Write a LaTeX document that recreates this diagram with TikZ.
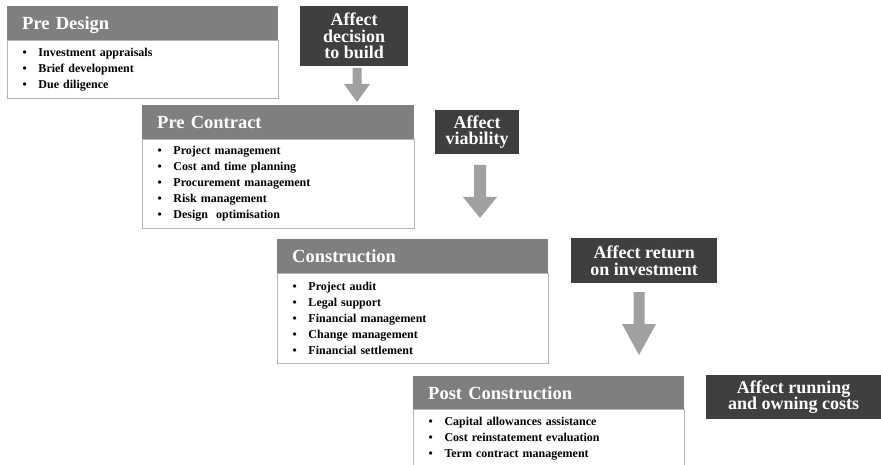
\documentclass[tikz,border=0pt]{standalone}
\usepackage{fontspec}
\setmainfont{Liberation Serif}
\definecolor{headgray}{HTML}{7F7F7F}
\definecolor{darkbox}{HTML}{3F3F3F}
\definecolor{arrowgray}{HTML}{A0A0A0}
\definecolor{bordergray}{HTML}{B4B4B4}
\newcommand{\bitem}[1]{\makebox[16pt][l]{\textbullet}#1}
\newcommand{\blkarrow}[6]{%
  \fill[arrowgray] (#1-#3,#2) -- (#1+#3,#2) -- (#1+#3,#4) -- (#1+#5,#4) -- (#1,#6) -- (#1-#5,#4) -- (#1-#3,#4) -- cycle;}
\tikzset{
  phasehead/.style={anchor=north west, fill=headgray, text=white,
    font=\bfseries\fontsize{18.5}{20}\selectfont, minimum height=34pt,
    text height=13pt, text depth=0pt,
    text width=#1, inner xsep=15pt, inner ysep=0pt, align=left},
  phasebody/.style={anchor=north west, draw=bordergray, line width=1pt, fill=white,
    font=\bfseries\fontsize{12}{16}\selectfont, minimum height=#1,
    text width=241pt, inner xsep=15pt, inner ysep=0pt, align=left},
  affectbox/.style={anchor=north west, fill=darkbox, text=white,
    font=\bfseries\fontsize{18}{16.5}\selectfont, align=center, inner sep=0pt}
}
\begin{document}
\begin{tikzpicture}[x=1pt,y=-1pt]
\useasboundingbox (0,0) rectangle (881,465);

% Pre Design
\node[phasehead=241pt] (pdh) at (7,6) {Pre Design};
\node[phasebody=58pt] (pdb) at (7,40) {\bitem{Investment appraisals}\\\bitem{Brief development}\\\bitem{Due diligence}};

% Pre Contract
\node[phasehead=242pt] (pch) at (142,105) {Pre Contract};
\node[phasebody=89pt, text width=242pt] (pcb) at (142,139) {\bitem{Project management}\\\bitem{Cost and time planning}\\\bitem{Procurement management}\\\bitem{Risk management}\\\bitem{Design~~optimisation}};

% Construction
\node[phasehead=241pt] (coh) at (277,239) {Construction};
\node[phasebody=90pt] (cob) at (277,273) {\bitem{Project audit}\\\bitem{Legal support}\\\bitem{Financial management}\\\bitem{Change management}\\\bitem{Financial settlement}};

% Post Construction
\node[phasehead=241pt, minimum height=33pt] (poh) at (413,376) {Post Construction};
\node[phasebody=58pt] (pob) at (413,409) {\bitem{Capital allowances assistance}\\\bitem{Cost reinstatement evaluation}\\\bitem{Term contract management}};

% Affect boxes
\node[affectbox, minimum width=108pt, minimum height=60pt] (a1) at (300,6) {Affect\\decision\\to build};
\node[affectbox, minimum width=84pt, minimum height=44pt] (a2) at (435,110) {Affect\\viability};
\node[affectbox, minimum width=146pt, minimum height=45pt] (a3) at (571,238) {Affect return\\on investment};
\node[affectbox, minimum width=175pt, minimum height=44pt] (a4) at (706,375) {Affect running\\and owning costs};

% Block arrows
\blkarrow{357}{68}{4.5}{84}{13}{102}
\blkarrow{480}{165}{6}{197}{17}{218}
\blkarrow{639}{292}{5.5}{324}{17}{355}
\end{tikzpicture}
\end{document}
